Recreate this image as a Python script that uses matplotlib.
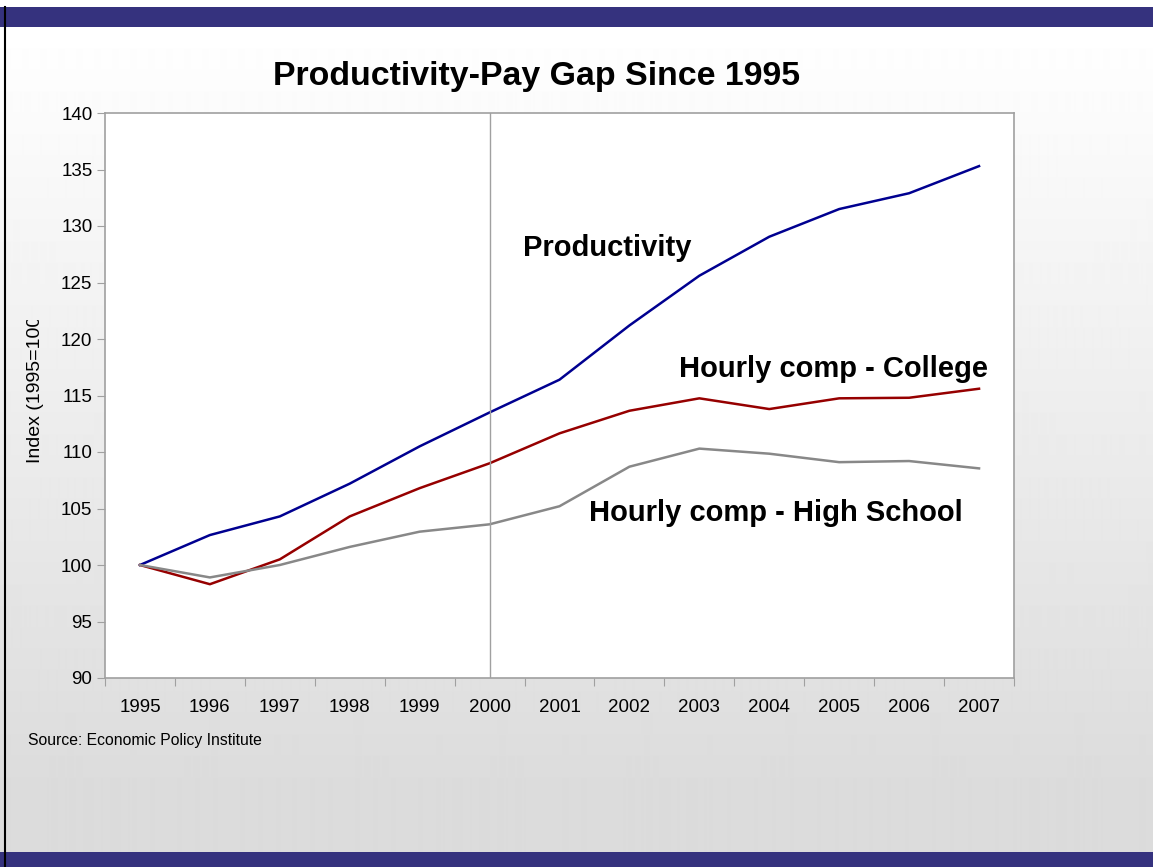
import numpy as np
import matplotlib
matplotlib.use('Agg')
import matplotlib.pyplot as plt
from matplotlib.transforms import Bbox

plt.rcParams['font.family'] = ['Liberation Sans', 'DejaVu Sans']

# Data (index, 1995 = 100)
years = ['1995', '1996', '1997', '1998', '1999', '2000', '2001',
         '2002', '2003', '2004', '2005', '2006', '2007']
productivity = [100.0, 102.65, 104.3, 107.2, 110.5, 113.5, 116.4,
                121.2, 125.6, 129.05, 131.5, 132.9, 135.3]
college = [100.0, 98.3, 100.5, 104.3, 106.8, 109.0, 111.65,
           113.65, 114.75, 113.8, 114.75, 114.8, 115.6]
high_school = [100.0, 98.9, 100.0, 101.6, 102.95, 103.6, 105.2,
               108.7, 110.3, 109.85, 109.1, 109.2, 108.55]

W, H = 1153, 867
fig = plt.figure(figsize=(W / 100, H / 100), dpi=100)

# slide background: white-to-gray gradient, dark blue bars top and bottom
bg = fig.add_axes([0, 0, 1, 1])
bg.set_xlim(0, W)
bg.set_ylim(H, 0)
bg.axis('off')
rows = np.arange(H)
shade = np.clip((rows - 27) / (780 - 27), 0, 1)
vals = 1.0 - shade * (1.0 - 0xdc / 255)
grad = np.repeat(vals[:, None], 2, axis=1)
bg.imshow(grad, cmap='gray', vmin=0, vmax=1, aspect='auto',
          extent=[0, W, H, 0], interpolation='bilinear')
bg.add_patch(plt.Rectangle((0, 0), W, 7, color='white', lw=0))
bg.add_patch(plt.Rectangle((0, 7), W, 20, color='#35327e', lw=0))
bg.add_patch(plt.Rectangle((0, 852), W, 15, color='#35327e', lw=0))
bg.plot([5, 5], [7, 867], color='black', lw=1.5)

ax = fig.add_axes([105 / W, 1 - 678 / H, 909 / W, 565 / H])
x = np.arange(len(years))
ax.plot(x, productivity, color='#000090', lw=1.8)
ax.plot(x, college, color='#960000', lw=1.8)
ax.plot(x, high_school, color='#888888', lw=1.8)
ax.axvline(5, color='#a0a0a0', lw=1)

ax.set_xlim(-0.5, len(years) - 0.5)
ax.set_ylim(90, 140)
ax.set_yticks(np.arange(90, 141, 5))
ax.set_xticks(np.arange(-0.5, len(years)), minor=False)
ax.set_xticklabels([])
ax.set_xticks(x, minor=True)
ax.set_xticklabels(years, minor=True)
ax.tick_params(axis='x', which='major', length=6, direction='out', color='#a0a0a0')
ax.tick_params(axis='x', which='minor', length=0, pad=15, labelsize=13.5)
ax.tick_params(axis='y', length=6, direction='out', color='#a0a0a0', labelsize=13.5, pad=3)
for s in ax.spines.values():
    s.set_color('#a0a0a0')
    s.set_linewidth(1.2)

ax.text(5.478, 127.35, 'Productivity', fontsize=21, fontweight='bold', va='baseline', ha='left')
ax.text(7.709, 116.64, 'Hourly comp - College', fontsize=21, fontweight='bold', va='baseline', ha='left')
ax.text(6.422, 103.9, 'Hourly comp - High School', fontsize=21, fontweight='bold', va='baseline', ha='left')

fig.text(537 / W, 1 - 77 / H, 'Productivity-Pay Gap Since 1995', fontsize=24.4,
         fontweight='bold', ha='center', va='center')
# axis title is cut off at the top in the original
yl = fig.text(35.5 / W, 1 - 463 / H, 'Index (1995=100)', fontsize=14, rotation=90,
              ha='center', va='bottom')
yl.set_clip_box(Bbox.from_extents(0, H - 475, 100, H - 320))
yl.set_clip_on(True)
fig.text(28 / W, 1 - 740 / H, 'Source: Economic Policy Institute', fontsize=11.3,
         ha='left', va='center')

fig.savefig('out.png', dpi=100)
